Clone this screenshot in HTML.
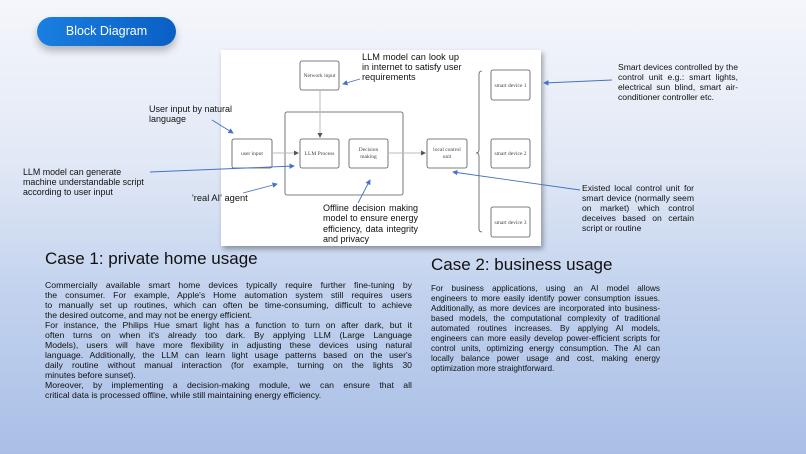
<!DOCTYPE html>
<html><head><meta charset="utf-8"><style>
body{margin:0}
#p{position:relative;width:806px;height:454px;overflow:hidden;background:linear-gradient(180deg,#f4f6fb 0%,#e2e9f6 35%,#c2d2ee 65%,#a9bfe6 100%);font-family:"Liberation Sans",sans-serif;color:#111}
.a{position:absolute}
.t{font-size:8.6px;line-height:10px}
.t div{text-align:justify;text-align-last:justify;white-space:nowrap}
.t div.l{text-align-last:left}
.btn{left:37px;top:17px;width:139px;height:29px;border-radius:15px;background:linear-gradient(90deg,#1a7fe0,#0a5fc4);color:#fff;font-size:12.5px;line-height:29px;text-align:center;box-shadow:0 5px 8px rgba(0,0,0,.25)}
.h{font-size:17px}
</style></head><body><div id="p">
<div class="a btn">Block Diagram</div>
<div class="a" style="left:221px;top:50px;width:320px;height:196px;background:#fff;box-shadow:2px 3px 5px rgba(0,0,0,.35)"></div>
<svg class="a" style="left:0;top:0" width="806" height="454">
<defs><marker id="b" markerWidth="6" markerHeight="6" refX="5" refY="3" orient="auto"><path d="M0,0L6,3L0,6z" fill="#4472c4"/></marker>
<marker id="g" markerWidth="5" markerHeight="5" refX="4" refY="2.5" orient="auto"><path d="M0,0L5,2.5L0,5z" fill="#555"/></marker></defs>
<g fill="none" stroke="#555" stroke-width="0.8">
<rect x="300" y="61" width="39" height="29" rx="2"/>
<rect x="285" y="112" width="118" height="83" rx="2"/>
<rect x="232" y="139" width="40" height="29" rx="2"/>
<rect x="300" y="139" width="39" height="29" rx="2"/>
<rect x="349" y="139" width="39" height="29" rx="2"/>
<rect x="427" y="139" width="40" height="29" rx="2"/>
<rect x="491" y="70" width="39" height="30" rx="2"/>
<rect x="491" y="139" width="39" height="29" rx="2"/>
<rect x="491" y="207" width="39" height="30" rx="2"/>
<path d="M482,71 Q479,71 479,74 L479,150 Q479,153 476,153 Q479,153 479,156 L479,229 Q479,232 482,232"/>
</g>
<g stroke="#bbb" stroke-width="1">
<line x1="272" y1="153" x2="298" y2="153" marker-end="url(#g)"/>
<line x1="388" y1="153" x2="425" y2="153" marker-end="url(#g)"/>
<line x1="320" y1="90" x2="320" y2="137" marker-end="url(#g)"/>
</g>
<g stroke="#4472c4" stroke-width="0.9" marker-end="url(#b)">
<line x1="360" y1="79" x2="343" y2="84"/>
<line x1="212" y1="120" x2="233" y2="133"/>
<line x1="150" y1="172" x2="294" y2="166"/>
<line x1="243" y1="193" x2="277" y2="184"/>
<line x1="358" y1="203" x2="370" y2="180"/>
<line x1="580" y1="190" x2="453" y2="172"/>
<line x1="612" y1="80" x2="544" y2="83"/>
</g>
<g font-family="Liberation Serif,serif" font-size="5.5" fill="#444" text-anchor="middle">
<text x="319.5" y="77">Network input</text>
<text x="252" y="155">user input</text>
<text x="319.5" y="155">LLM Process</text>
<text x="368.5" y="151">Decision</text><text x="368.5" y="158">making</text>
<text x="447" y="151">local control</text><text x="447" y="158">unit</text>
<text x="510.5" y="87">smart device 1</text>
<text x="510.5" y="155">smart device 2</text>
<text x="510.5" y="224">smart device 3</text>
</g>
</svg>
<div class="a t" style="left:362px;top:52px;width:97px;font-size:9.2px"><div>LLM model can look up</div><div>in internet to satisfy user</div><div class="l">requirements</div></div>
<div class="a t" style="left:149px;top:104px;font-size:9px">User input by natural<br>language</div>
<div class="a t" style="left:23px;top:167px;font-size:8.9px">LLM model can generate<br>machine understandable script<br>according to user input</div>
<div class="a t" style="left:192px;top:193px;font-size:9.3px">'real AI' agent</div>
<div class="a t" style="left:323px;top:203px;width:95px;font-size:9px;line-height:10.3px"><div>Offline decision making</div><div>model to ensure energy</div><div>efficiency, data integrity</div><div class="l">and privacy</div></div>
<div class="a t" style="left:618px;top:62px;width:120px;font-size:8.6px"><div>Smart devices controlled by the</div><div>control unit e.g.: smart lights,</div><div>electrical sun blind, smart air-</div><div class="l">conditioner controller etc.</div></div>
<div class="a t" style="left:582px;top:183px;width:112px;font-size:8.6px"><div>Existed local control unit for</div><div>smart device (normally seem</div><div>on market) which control</div><div>deceives based on certain</div><div class="l">script or routine</div></div>
<div class="a h" style="left:45px;top:249px">Case 1: private home usage</div>
<div class="a t" style="left:45px;top:280px;width:367px;font-size:8.7px">
<div>Commercially available smart home devices typically require further fine-tuning by</div>
<div>the consumer. For example, Apple's Home automation system still requires users</div>
<div>to manually set up routines, which can often be time-consuming, difficult to achieve</div>
<div class="l">the desired outcome, and may not be energy efficient.</div>
<div>For instance, the Philips Hue smart light has a function to turn on after dark, but it</div>
<div>often turns on when it's already too dark. By applying LLM (Large Language</div>
<div>Models), users will have more flexibility in adjusting these devices using natural</div>
<div>language. Additionally, the LLM can learn light usage patterns based on the user's</div>
<div>daily routine without manual interaction (for example, turning on the lights 30</div>
<div class="l">minutes before sunset).</div>
<div>Moreover, by implementing a decision-making module, we can ensure that all</div>
<div class="l">critical data is processed offline, while still maintaining energy efficiency.</div>
</div>
<div class="a h" style="left:431px;top:255px">Case 2: business usage</div>
<div class="a t" style="left:431px;top:284px;width:229px;font-size:8.2px">
<div>For business applications, using an AI model allows</div>
<div>engineers to more easily identify power consumption issues.</div>
<div>Additionally, as more devices are incorporated into business-</div>
<div>based models, the computational complexity of traditional</div>
<div>automated routines increases. By applying AI models,</div>
<div>engineers can more easily develop power-efficient scripts for</div>
<div>control units, optimizing energy consumption. The AI can</div>
<div>locally balance power usage and cost, making energy</div>
<div class="l">optimization more straightforward.</div>
</div>
</div></body></html>
